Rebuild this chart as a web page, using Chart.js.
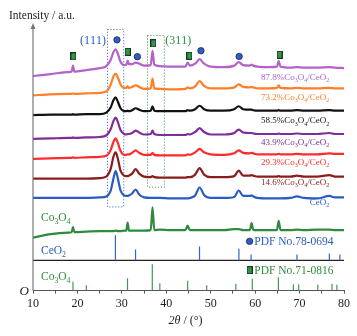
<!DOCTYPE html>
<html>
<head>
<meta charset="utf-8">
<script src="https://cdn.jsdelivr.net/npm/chart.js@4.4.0/dist/chart.umd.min.js"></script>
<style>
html, body { margin: 0; padding: 0; background: #fff; }
#wrap { width: 357px; height: 336px; }
</style>
</head>
<body>
<div id="wrap"><canvas id="xrdChart"></canvas></div>
<script>
// 2theta grid shared by all measured patterns (denser around the peaks)
const angles = [10, 14, 18, 18.7, 19.0, 19.3, 22, 25, 26.5, 27.5, 28.1, 28.6, 29.1, 29.7, 30.5, 31.0, 31.3, 31.6, 32.3, 33.1, 33.9, 35, 36.5, 36.9, 37.3, 38.5, 41, 44.3, 44.8, 45.3, 46.5, 47.5, 48.5, 50, 53, 55.3, 56.3, 57.3, 58.8, 59.2, 59.6, 60.5, 63, 64.9, 65.3, 65.7, 68, 69.4, 71, 74, 76.7, 78, 80];

// intensities (a.u., already stacked with offsets)
const co87 = [216.5, 218.5, 220.5, 221, 227, 221, 222.5, 224.5, 226.5, 233, 240.5, 243.5, 239, 231, 227.5, 228, 232, 228.5, 228.5, 230, 229, 227, 227.5, 242, 228, 226.5, 226, 226, 230, 227, 229, 233.5, 229, 226, 225.5, 227, 230.5, 227.5, 227, 228, 227, 226, 225.5, 226, 231.5, 226, 225, 225.5, 225, 225, 225.5, 225, 224.5];
const co73 = [197, 198, 198.5, 198.5, 199, 198.5, 199, 199.5, 201, 208, 216, 219, 215, 208, 204.5, 204.5, 206, 204.5, 205.5, 207, 205.5, 203.5, 204, 214, 204, 203.5, 203, 203.5, 205, 204, 206, 211.5, 206.5, 204, 204, 205, 208, 205.5, 205, 205.5, 205, 204, 204, 204.5, 207, 204.5, 204, 204.5, 204, 204, 204.5, 204, 204];
const co58 = [177, 177.5, 177.5, 177.5, 178, 177.5, 178, 178, 179.5, 185, 192, 195, 190.5, 184, 181, 181, 181.5, 181, 182, 184, 182.5, 181, 181.5, 186, 181.5, 181, 181, 181, 182, 181.5, 183, 186.5, 183, 181.5, 181.5, 183, 186, 183, 182.5, 182.5, 182, 181.5, 181.5, 181.5, 182, 181.5, 181.5, 182, 181.5, 181.5, 182, 181.5, 181.5];
const co43 = [153, 153.5, 154, 154, 154.5, 154, 154.5, 155, 156.5, 163, 171, 174.5, 170, 162, 158, 157.5, 158, 158, 159, 161.5, 159.5, 157.5, 158, 161.5, 158, 157, 157, 157, 158, 157.5, 160, 164, 160, 157.5, 157.5, 159, 162.5, 159.5, 159, 159, 158.5, 158, 158, 158, 158.5, 158, 158, 158.5, 158, 158, 159, 158, 158];
const co29 = [133, 133.5, 134, 134, 134.5, 134, 134.5, 135, 136, 142, 150, 153.5, 149, 141, 137, 137, 137.5, 137.5, 139, 141.5, 139, 137, 137, 139, 137, 136.5, 136.5, 136.5, 137.5, 137, 139.5, 143, 139.5, 137.5, 137, 138.5, 141.5, 139, 138.5, 139, 138.5, 137.5, 137.5, 137.5, 138, 137.5, 137.5, 138, 137.5, 137.5, 138.5, 138, 138];
const co14 = [113, 113, 113, 113, 113, 113, 113, 113.5, 115, 123, 135, 139.5, 133, 121, 116, 115.5, 115.5, 116, 118, 122.5, 118, 115, 114.5, 115.5, 114.5, 114, 114, 114, 114.5, 114.5, 117, 123.5, 117, 114.5, 114.5, 115.5, 121, 116, 116, 116.5, 116, 115, 115, 115, 115.5, 115, 115, 116, 115, 115, 116.5, 115, 115];
const ceo2 = [93.5, 93.5, 93.5, 93.5, 93.5, 93.5, 93.5, 94, 95, 101, 113, 120.5, 113, 101, 96, 95.5, 95.5, 96, 98, 102, 97, 94, 93.5, 93.5, 93.5, 93.5, 93, 93, 93, 93.5, 96, 104, 96.5, 93.5, 93.5, 94.5, 101, 95.5, 95.5, 96, 95, 93.5, 93, 93, 93, 93, 93.5, 95, 93.5, 93, 95.5, 94, 94];
const co3o4 = [53.5, 57, 58.5, 59, 64, 59, 59.5, 60, 60, 60, 60, 60.5, 60, 60, 60.5, 60.5, 68.5, 60.5, 60.5, 60.5, 60.5, 60.5, 61, 84, 61, 61.5, 61, 61, 65.5, 61, 61, 61, 61, 61, 61, 62, 62, 61, 61, 68, 61, 61, 61, 61, 70.5, 61, 61, 61.5, 61, 61.5, 61.5, 61, 61];

const sampleNames = ['87.8%Co_3O_4/CeO_2', '73.2%Co_3O_4/CeO_2', '58.5%Co_3O_4/CeO_2', '43.9%Co_3O_4/CeO_2', '29.3%Co_3O_4/CeO_2', '14.6%Co_3O_4/CeO_2', 'CeO_2'];

// reference cards
const ceo2StickPos = [28.55, 33.08, 47.48, 56.34, 59.09, 69.41, 76.70, 79.07];
const ceo2StickHeight = [25.5, 11, 14, 11.7, 6, 6, 7, 6];
const co3o4StickPos = [19.0, 22.0, 31.27, 36.85, 38.55, 44.81, 49.1, 55.66, 59.36, 65.24, 68.6, 69.8, 74.1, 77.3, 78.4];
const co3o4StickHeight = [9, 5.5, 12.5, 26.5, 7.5, 10, 5.5, 7, 12, 13.5, 6.5, 6.5, 6, 7, 6];
const ceo2CardBase = 30.4;

// phase markers above the top pattern
const ceo2MarkPos = [28.9, 33.5, 47.8, 56.4];
const ceo2MarkY = [253, 236, 242, 236.3];
const co3o4MarkPos = [19.1, 31.3, 37.1, 45.2, 65.5];
const co3o4MarkY = [236.3, 241, 249.5, 237, 238];

const SERIF = '"Liberation Serif", "Times New Roman", serif';
const colors = ['#b462c8', '#ff7f27', '#111111', '#7f2d98', '#ff2b2b', '#8b1c1c', '#2a5bc0'];
const green = '#2e8b3e';
const blue = '#2a5bc0';

function series(vals) {
    return angles.map((a, i) => ({ x: a, y: vals[i] }));
}
function sticks(pos, h, base) {
    const out = [];
    pos.forEach((p, i) => {
        out.push({ x: p, y: base }, { x: p, y: base + h[i] }, { x: p, y: null });
    });
    return out;
}
function marks(pos, ys) {
    return pos.map((p, i) => ({ x: p, y: ys[i] }));
}

// little green rectangle used for Co3O4 markers
const sq = document.createElement('canvas');
sq.width = 6; sq.height = 8;
const sctx = sq.getContext('2d');
sctx.fillStyle = '#34944a';
sctx.fillRect(0.5, 0.5, 5, 7);
sctx.strokeStyle = '#173a1e';
sctx.lineWidth = 1;
sctx.strokeRect(0.5, 0.5, 5, 7);

function drawRich(ctx, text, x, y, size, color, align, italic) {
    const parts = [];
    for (let i = 0; i < text.length; i++) {
        if (text[i] === '_') { parts.push([text[i + 1], true]); i++; }
        else parts.push([text[i], false]);
    }
    const st = italic ? 'italic ' : '';
    const big = st + size + 'px ' + SERIF;
    const small = st + (size * 0.68).toFixed(1) + 'px ' + SERIF;
    let w = 0;
    parts.forEach(p => { ctx.font = p[1] ? small : big; w += ctx.measureText(p[0]).width; });
    let cx = align === 'right' ? x - w : align === 'center' ? x - w / 2 : x;
    ctx.fillStyle = color;
    ctx.textAlign = 'left';
    ctx.textBaseline = 'alphabetic';
    parts.forEach(p => {
        ctx.font = p[1] ? small : big;
        ctx.fillText(p[0], cx, y + (p[1] ? size * 0.25 : 0));
        cx += ctx.measureText(p[0]).width;
    });
}

const annotate = {
    id: 'annotate',
    beforeDatasetsDraw(chart) {
        const { ctx, scales: { x, y } } = chart;
        ctx.save();
        ctx.lineWidth = 1;
        ctx.setLineDash([1, 2]);
        [[26.7, 30.35, 264, 85, blue], [35.6, 39.4, 258, 105, green]].forEach(b => {
            ctx.strokeStyle = b[4];
            ctx.strokeRect(Math.round(x.getPixelForValue(b[0])) + 0.5, Math.round(y.getPixelForValue(b[2])) + 0.5,
                x.getPixelForValue(b[1]) - x.getPixelForValue(b[0]), y.getPixelForValue(b[3]) - y.getPixelForValue(b[2]));
        });
        ctx.restore();
    },
    afterDraw(chart) {
        const { ctx, chartArea: a, scales: { x, y } } = chart;
        ctx.save();
        // y axis with arrow
        ctx.strokeStyle = '#777';
        ctx.lineWidth = 1.2;
        ctx.beginPath();
        ctx.moveTo(a.left, a.bottom);
        ctx.lineTo(a.left, a.top + 3);
        ctx.stroke();
        ctx.fillStyle = '#777';
        ctx.beginPath();
        ctx.moveTo(a.left, a.top);
        ctx.lineTo(a.left - 2.5, a.top + 6);
        ctx.lineTo(a.left + 2.5, a.top + 6);
        ctx.closePath();
        ctx.fill();

        drawRich(ctx, 'Intensity / a.u.', 9, 19, 11.5, '#222', 'left');
        drawRich(ctx, 'O', a.left - 4, a.bottom + 4, 13, '#222', 'right', true);
        // x title
        const tx = (a.left + a.right) / 2 - 20;
        ctx.fillStyle = '#222';
        ctx.font = 'italic 12px ' + SERIF;
        ctx.fillText('2\u03b8', tx, 324);
        const w0 = ctx.measureText('2\u03b8').width;
        ctx.font = '12px ' + SERIF;
        ctx.fillText(' / (\u00b0)', tx + w0, 324);

        // sample labels
        const labY = [216, 196, 172, 150.3, 130, 110, 90];
        sampleNames.forEach((n, i) => {
            drawRich(ctx, n, x.getPixelForValue(76.7), y.getPixelForValue(labY[i]) + 3.2, 9, colors[i], 'right');
        });
        drawRich(ctx, 'Co_3O_4', x.getPixelForValue(11.8), y.getPixelForValue(74) + 4, 11.5, green, 'left');
        drawRich(ctx, 'CeO_2', x.getPixelForValue(11.8), y.getPixelForValue(41) + 4, 11.5, blue, 'left');
        drawRich(ctx, 'Co_3O_4', x.getPixelForValue(11.8), y.getPixelForValue(15) + 4, 11.5, green, 'left');
        drawRich(ctx, '(111)', x.getPixelForValue(23.5), y.getPixelForValue(253) + 4, 12, blue, 'center');
        drawRich(ctx, '(311)', x.getPixelForValue(42.7), y.getPixelForValue(253) + 4, 12, green, 'center');
        drawRich(ctx, 'PDF No.78-0694', x.getPixelForValue(59.8), y.getPixelForValue(49.7) + 4, 11.5, blue, 'left');
        drawRich(ctx, 'PDF No.71-0816', x.getPixelForValue(59.8), y.getPixelForValue(20.7) + 4, 11.5, green, 'left');
        ctx.restore();
    }
};

const lineSets = [co87, co73, co58, co43, co29, co14, ceo2].map((v, i) => ({
    data: series(v),
    borderColor: colors[i],
    borderWidth: 2.2,
    pointRadius: 0,
    cubicInterpolationMode: 'monotone'
}));

new Chart(document.getElementById('xrdChart'), {
    type: 'line',
    data: {
        datasets: [
            ...lineSets,
            { data: series(co3o4), borderColor: green, borderWidth: 2.2, pointRadius: 0, cubicInterpolationMode: 'monotone' },
            { data: sticks(ceo2StickPos, ceo2StickHeight, ceo2CardBase), borderColor: '#3464c4', borderWidth: 1.2, pointRadius: 0, spanGaps: false },
            { data: sticks(co3o4StickPos, co3o4StickHeight, 0), borderColor: '#3f9c4e', borderWidth: 1.2, pointRadius: 0, spanGaps: false },
            { data: [{ x: 10, y: ceo2CardBase }, { x: 80, y: ceo2CardBase }], borderColor: '#222', borderWidth: 1.3, pointRadius: 0 },
            { data: marks(ceo2MarkPos, ceo2MarkY).concat([{ x: 58.75, y: 49.7 }]), showLine: false, pointRadius: 3.2, pointStyle: 'circle', pointBackgroundColor: '#2b5ec8', pointBorderColor: '#1b2350', pointBorderWidth: 0.8 },
            { data: marks(co3o4MarkPos, co3o4MarkY).concat([{ x: 58.75, y: 20.7 }]), showLine: false, pointRadius: 4, pointStyle: sq }
        ]
    },
    options: {
        responsive: true,
        maintainAspectRatio: false,
        animation: false,
        layout: { padding: { left: 33, right: 13, top: 23, bottom: 22 } },
        plugins: { legend: { display: false }, tooltip: { enabled: false } },
        elements: { line: { tension: 0 } },
        scales: {
            x: {
                type: 'linear', min: 10, max: 80,
                ticks: {
                    stepSize: 5, autoSkip: false, maxRotation: 0, padding: 3, color: '#222',
                    font: { family: SERIF, size: 12 },
                    callback: v => (v % 10 === 0 ? String(v) : '')
                },
                grid: { drawOnChartArea: false, tickLength: 3, color: '#555' },
                border: { color: '#555', width: 1 }
            },
            y: { display: false, min: 0, max: 270 }
        }
    },
    plugins: [annotate]
});
</script>
</body>
</html>
